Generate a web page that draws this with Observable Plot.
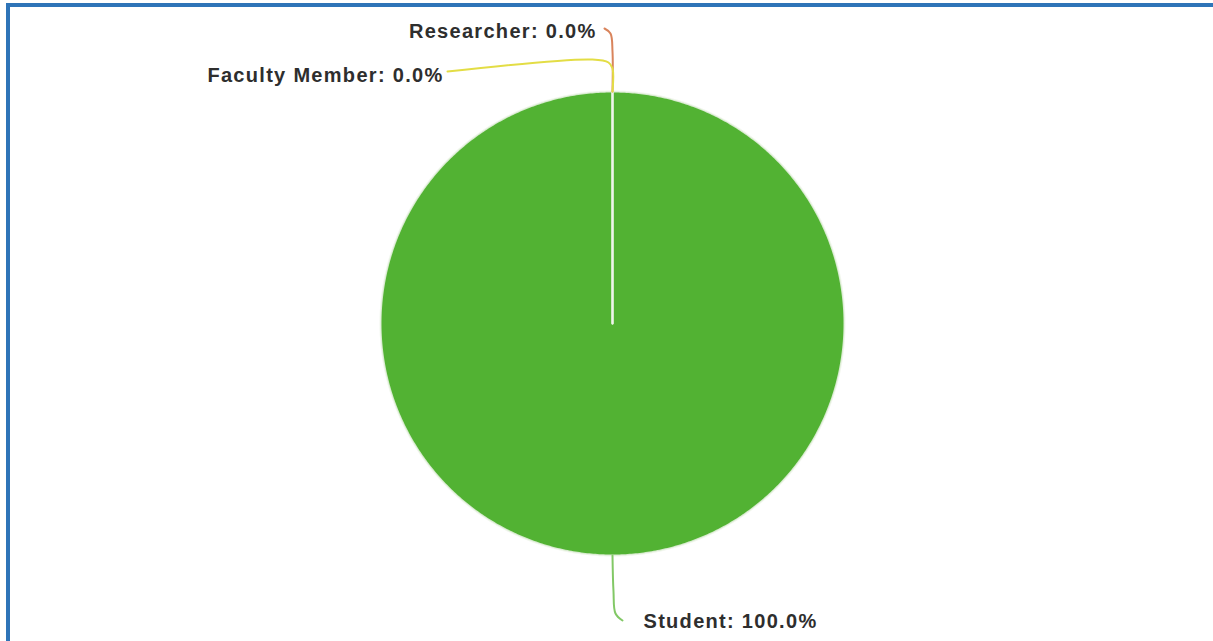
<!DOCTYPE html>
<html>
<head>
<meta charset="utf-8">
<script src="https://cdn.jsdelivr.net/npm/d3@7"></script>
<script src="https://cdn.jsdelivr.net/npm/@observablehq/plot@0.6"></script>
<style>
  html, body { margin: 0; padding: 0; background: #fff; }
  #wrap { position: relative; width: 1213px; height: 641px; overflow: hidden; }
  #frame { position: absolute; left: 6px; top: 3px; width: 1203px; height: 634px;
           border-left: 4px solid #2e74b8; border-top: 4px solid #2e74b8;
           border-right: 2px solid #a9d2ee; border-bottom: 2px solid #a9d2ee; pointer-events: none; }
</style>
</head>
<body>
<div id="wrap"><div id="chart"></div><div id="frame"></div></div>
<script>
// ---- data ----
const categories = ["Student", "Faculty Member", "Researcher"];
const values = [100, 0, 0];

// ---- styles / layout (not data) ----
const sliceColors = ["#52b233", "#e8e23c", "#e07a4c"];
const leaderColors = ["#82c866", "#e3dd45", "#d9845c"];
const W = 1213, H = 641, CX = 612, CY = 323, R = 232;
// leader paths & label offsets in pixels relative to the slice's outer mid-point
const layout = {
  "Student":        {path: [[0,0],[1,36],[3,58],[10,65]], label: [31, 66], anchor: "start"},
  "Faculty Member": {path: [[0,0],[0,-23],[-4,-29],[-20,-32],[-165,-20]], label: [-169, -16], anchor: "end"},
  "Researcher":     {path: [[0,0],[0,-40],[-2,-58],[-8,-63]], label: [-16, -60], anchor: "end"}
};

const rows = categories.map((c, i) => ({category: c, value: values[i]}));
const total = d3.sum(values);
const arcs = d3.pie().sort(null).value(d => d.value)(rows);

// slice polygons in unit coordinates (radius = 1, y up)
const poly = [];
for (const a of arcs) {
  const c = a.data.category;
  poly.push({category: c, x: 0, y: 0});
  const n = Math.max(2, Math.ceil((a.endAngle - a.startAngle) / (Math.PI / 360)));
  for (let k = 0; k <= n; k++) {
    const t = a.startAngle + (a.endAngle - a.startAngle) * k / n;
    poly.push({category: c, x: Math.sin(t), y: Math.cos(t)});
  }
  poly.push({category: c, x: 0, y: 0});
}

// leaders & labels
const leaders = [], labels = [];
for (const a of arcs) {
  const c = a.data.category;
  const m = (a.startAngle + a.endAngle) / 2;
  const ax = Math.sin(m), ay = Math.cos(m);
  const L = layout[c];
  for (const [dx, dy] of L.path) leaders.push({category: c, x: ax + dx / R, y: ay - dy / R});
  labels.push({category: c, anchor: L.anchor, x: ax + L.label[0] / R, y: ay - L.label[1] / R,
               text: `${c}: ${(100 * a.data.value / total).toFixed(1)}%`});
}

const order = ["Researcher", "Faculty Member", "Student"];
leaders.sort((p, q) => order.indexOf(p.category) - order.indexOf(q.category));

const plot = Plot.plot({
  width: W, height: H,
  margin: 0,
  x: {domain: [-CX / R, (W - CX) / R], axis: null},
  y: {domain: [-(H - CY) / R, CY / R], axis: null},
  color: {domain: categories, range: sliceColors},
  style: {fontFamily: "'Liberation Sans', Arial, sans-serif", letterSpacing: "1.3px", background: "transparent"},
  marks: [
    Plot.line(poly, {x: "x", y: "y", z: "category", fill: "category", stroke: "#eef5ea", strokeWidth: 2, strokeOpacity: 0.85, curve: "linear"}),
    Plot.line(leaders, {x: "x", y: "y", z: "category", stroke: d => leaderColors[categories.indexOf(d.category)], strokeWidth: 2, curve: "catmull-rom"}),
    Plot.text(labels.filter(d => d.anchor === "start"), {x: "x", y: "y", text: "text", textAnchor: "start", fill: "#2e2e2e", fontSize: 20, fontWeight: "bold"}),
    Plot.text(labels.filter(d => d.anchor === "end"), {x: "x", y: "y", text: "text", textAnchor: "end", fill: "#2e2e2e", fontSize: 20, fontWeight: "bold"})
  ]
});
document.getElementById("chart").appendChild(plot);
</script>
</body>
</html>
